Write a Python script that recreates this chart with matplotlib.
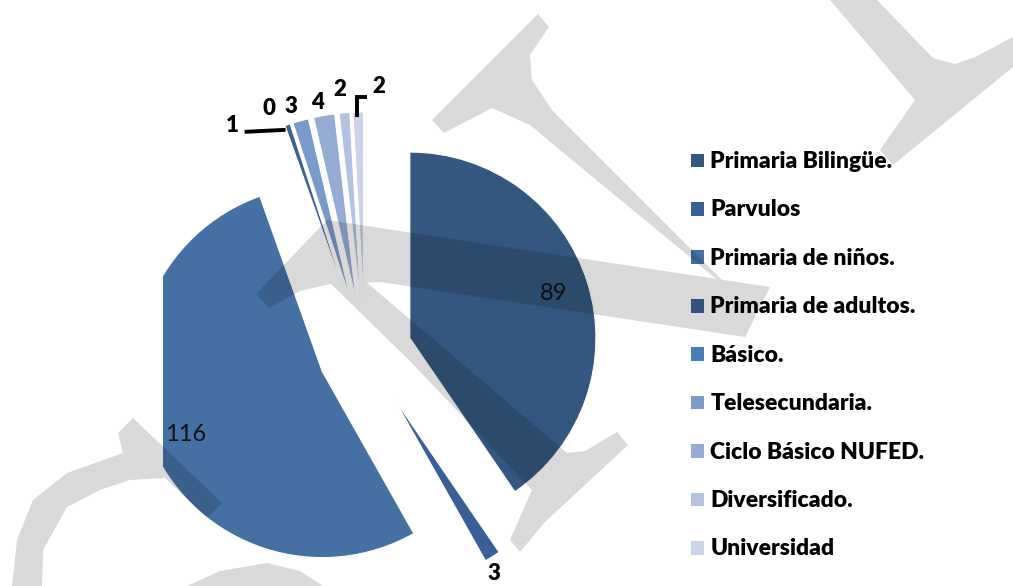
import matplotlib
matplotlib.use("Agg")
import matplotlib.pyplot as plt
import numpy as np
from matplotlib.path import Path
from matplotlib.patches import PathPatch

# ---------------- data ----------------
categories = ["Primaria Bilingüe.", "Parvulos", "Primaria de niños.",
              "Primaria de adultos.", "Básico.", "Telesecundaria.",
              "Ciclo Básico NUFED.", "Diversificado.", "Universidad"]
values = [89, 3, 116, 1, 0, 3, 4, 2, 2]

# ---------------- style ----------------
colors = ["#34577f", "#395f96", "#4470a3", "#3c6193", "#4a7ebb",
          "#7a9bc9", "#97acd3", "#b3c2e1", "#cbd4e8"]
W, H = 1013, 586
radius = 186
center = (365, 352)
explode = [47, 55, 47, 54, 54, 54, 54, 54, 54]

fig = plt.figure(figsize=(W / 100, H / 100), dpi=100)
fig.patch.set_facecolor("white")

# pie axes: clipped on the left like the original plot area
ax = fig.add_axes([163 / W, 0, (W - 163) / W, 1])
total = sum(values)


def fmt(pct):
    v = pct * total / 100.0
    return "%d" % round(v) if v / total > 0.1 else ""


wedges, texts, autotexts = ax.pie(
    values, explode=explode, colors=colors, radius=radius, center=center,
    startangle=-90, counterclock=True, autopct=fmt, pctdistance=0.81,
    wedgeprops=dict(clip_on=True, edgecolor="white", linewidth=0.7),
    textprops=dict(fontsize=17, family="Lato", color="#111111"))
ax.set_xlim(163, W)
ax.set_ylim(H, 0)
ax.set_aspect("auto")
ax.axis("off")

# outside labels for small slices (positions derived from wedge geometry)
label_offsets = {1: (2, 17), 3: (-55, 1), 4: (-22, -15), 5: (-10, -14),
                 6: (-7, -13), 7: (-5, -23), 8: (21, -26)}
cum = np.cumsum([0] + values)
lab_font = dict(fontsize=16, family="Lato", fontweight="heavy",
                color="black", ha="center", va="center")
outer = {}
for i, v in enumerate(values):
    mid = -90 + (cum[i] + v / 2) / total * 360
    t = np.deg2rad(mid)
    cx = center[0] + explode[i] * np.cos(t)
    cy = center[1] + explode[i] * np.sin(t)
    outer[i] = (cx + radius * np.cos(t), cy + radius * np.sin(t))
for i, (dx, dy) in label_offsets.items():
    ox, oy = outer[i]
    ax.text(ox + dx, oy + dy, str(values[i]), clip_on=False, **lab_font)

# leader lines
ox, oy = outer[3]
ax.plot([ox - 43, ox - 2], [oy + 7, oy + 5], color="black", lw=2.8,
        solid_capstyle="butt", clip_on=False)
ox, oy = outer[8]
ax.plot([ox - 1, ox - 1, ox + 9], [oy + 5, oy - 15, oy - 15], color="black",
        lw=2.8, solid_capstyle="butt", solid_joinstyle="miter", clip_on=False)

# legend
leg = fig.legend(wedges, categories, loc="upper left",
                 bbox_to_anchor=(690 / W, 1 - 151 / H), frameon=False,
                 borderpad=0, borderaxespad=0, handlelength=0.61,
                 handleheight=0.61, handletextpad=0.27, labelspacing=1.197,
                 prop=dict(family="Lato", weight="heavy", size=16.5))

# ---------------- watermark (decoration) ----------------
wm = fig.add_axes([0, 0, 1, 1], zorder=10)
wm.set_xlim(0, W)
wm.set_ylim(H, 0)
wm.axis("off")
wm.patch.set_alpha(0)

shapes = [
    # T-like shape (top bar + stem)
    [(538, 14), (432, 120), (444, 133), (492, 108), (530, 125), (560, 150),
     (748, 305), (760, 318), (552, 110), (532, 80), (530, 55), (549, 27)],
    # crossbar with hook
    [(256, 294), (327, 220), (770, 287), (745, 337), (380, 282), (330, 284),
     (300, 291), (269, 308)],
    # lower stroke with arm
    [(330, 283), (365, 281), (567, 453), (585, 451), (617, 432), (628, 445),
     (545, 522), (520, 552), (510, 540), (532, 490), (411, 362)],
    # bottom-left arc
    [(118, 433), (133, 418), (222, 503), (207, 518), (165, 478), (130, 480),
     (100, 490), (67, 507), (43, 550), (42, 586), (12, 586), (17, 540),
     (33, 500), (67, 473), (123, 453)],
    # bottom hump
    [(187, 586), (220, 571), (267, 563), (300, 571), (323, 586)],
    # top-right shape
    [(830, 0), (877, 0), (933, 58), (955, 64), (975, 57), (1013, 37),
     (1013, 67), (893, 165), (880, 150), (915, 100)],
]
verts, codes = [], []
for s in shapes:
    pts = np.array(s, dtype=float)
    area = 0.5 * np.sum(pts[:, 0] * np.roll(pts[:, 1], -1)
                        - np.roll(pts[:, 0], -1) * pts[:, 1])
    if area < 0:
        pts = pts[::-1]
    verts.extend(list(map(tuple, pts)) + [tuple(pts[0])])
    codes.extend([Path.MOVETO] + [Path.LINETO] * (len(pts) - 1)
                 + [Path.CLOSEPOLY])
wm.add_patch(PathPatch(Path(verts, codes), facecolor="black", alpha=0.15,
                       edgecolor="none"))

fig.savefig("out.png", dpi=100, facecolor="white")
